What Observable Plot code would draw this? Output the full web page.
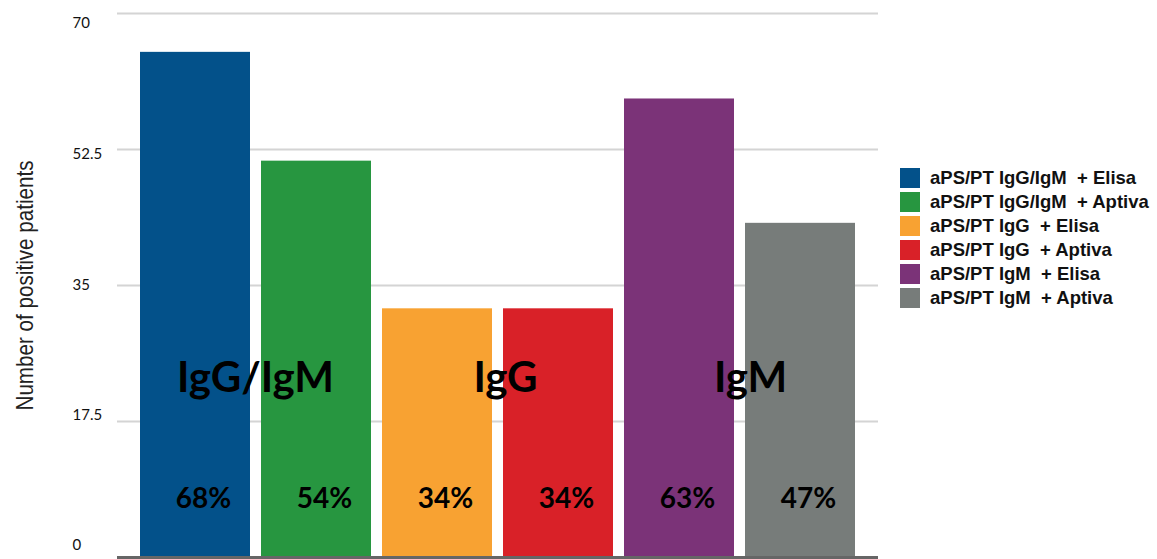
<!DOCTYPE html>
<html>
<head>
<meta charset="utf-8">
<script src="https://cdn.jsdelivr.net/npm/d3@7"></script>
<script src="https://cdn.jsdelivr.net/npm/@observablehq/plot@0.6"></script>
<style>
  html, body { margin: 0; padding: 0; background: #fff; }
  #wrap { position: relative; width: 1157px; height: 559px; }
  #legend { position: absolute; left: 900px; top: 166px; font-family: "Liberation Sans", Arial, sans-serif; font-weight: bold; font-size: 18.5px; color: #111; }
  #legend .row { display: flex; align-items: center; height: 24px; }
  #legend .sw { width: 20px; height: 20px; margin-right: 10px; }
</style>
</head>
<body>
<div id="wrap"><div id="chart"></div><div id="legend"></div></div>
<script>
const categories = [
  "aPS/PT IgG/IgM  + Elisa",
  "aPS/PT IgG/IgM  + Aptiva",
  "aPS/PT IgG  + Elisa",
  "aPS/PT IgG  + Aptiva",
  "aPS/PT IgM  + Elisa",
  "aPS/PT IgM  + Aptiva"
];
const values = [65, 51, 32, 32, 59, 43];
const percents = ["68%", "54%", "34%", "34%", "63%", "47%"];
const colors = ["#03518a", "#279640", "#f8a232", "#d92128", "#7b3378", "#777c7a"];
const yTicks = [0, 17.5, 35, 52.5, 70];
const yTickLabels = ["0", "17.5", "35", "52.5", "70"];
const groupLabels = ["IgG/IgM", "IgG", "IgM"];
const groupAnchor = [categories[1], categories[3], categories[5]];
const groupShift = [-61, -53, -50];
const tickShift = [-12, -6, 0, 5, 10];

const data = categories.map((c, i) => ({cat: c, value: values[i], pct: percents[i]}));
const groups = groupLabels.map((g, i) => ({label: g, cat: groupAnchor[i], shift: groupShift[i]}));

const plot = Plot.plot({
  width: 1157,
  height: 559,
  marginLeft: 117,
  marginRight: 279,
  marginTop: 13,
  marginBottom: 2,
  style: {background: "#fff"},
  x: {domain: categories, paddingInner: 0.09, paddingOuter: 0.172, axis: null},
  y: {domain: [0, 70], axis: null},
  color: {domain: categories, range: colors},
  marks: [
    Plot.ruleY(yTicks.filter(d => d > 0), {stroke: "#d4d4d4", strokeWidth: 2}),
    Plot.barY(data, {x: "cat", y: "value", fill: "cat"}),
    Plot.ruleY([0], {stroke: "#666", strokeWidth: 3}),
    ...yTicks.map((t, i) => Plot.text([t], {y: d => d, text: () => yTickLabels[i], frameAnchor: "left", textAnchor: "start", lineAnchor: "middle", dx: -45, dy: tickShift[i], fontSize: 15, fill: "#111", fontFamily: "Lato, 'Open Sans', sans-serif"})),
    ...groups.map(g => Plot.text([g], {x: "cat", text: "label", y: 23, dx: g.shift, fontSize: 42, fontWeight: "bold", fill: "#000", fontFamily: "Lato, 'Noto Sans', sans-serif"})),
    Plot.text(data, {x: "cat", text: "pct", frameAnchor: "bottom", lineAnchor: "middle", dy: -58, dx: 8, fontSize: 28, fontWeight: "bold", fill: "#000", fontFamily: "Lato, 'Noto Sans', sans-serif"}),
    Plot.text(["Number of positive patients"], {frameAnchor: "left", textAnchor: "middle", lineAnchor: "middle", y: 35, dx: -92, rotate: -90, fontSize: 24, fill: "#222", fontFamily: "'Liberation Sans', Arial, sans-serif", className: "ytitle"})
  ]
});
document.getElementById("chart").appendChild(plot);
d3.select(plot).selectAll(".ytitle text").attr("textLength", 250).attr("lengthAdjust", "spacingAndGlyphs");

const legend = document.getElementById("legend");
categories.forEach((c, i) => {
  const row = document.createElement("div");
  row.className = "row";
  const sw = document.createElement("div");
  sw.className = "sw";
  sw.style.background = colors[i];
  const t = document.createElement("span");
  t.textContent = c;
  t.style.whiteSpace = "pre";
  row.appendChild(sw);
  row.appendChild(t);
  legend.appendChild(row);
});
</script>
</body>
</html>
